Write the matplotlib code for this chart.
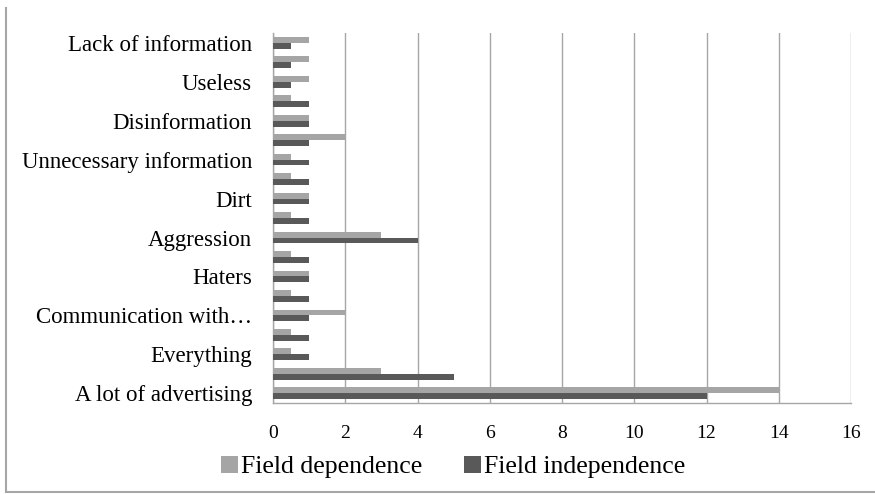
import matplotlib.pyplot as plt
from matplotlib.lines import Line2D
import numpy as np

# categories from bottom to top; every second label is skipped on the axis
categories = ["A lot of advertising", "", "Everything", "", "Communication with…", "",
              "Haters", "", "Aggression", "", "Dirt", "", "Unnecessary information", "",
              "Disinformation", "", "Useless", "", "Lack of information"]
field_dependence = [14, 3, 0.5, 0.5, 2, 0.5, 1, 0.5, 3, 0.5, 1, 0.5, 0.5, 2, 1, 0.5, 1, 1, 1]
field_independence = [12, 5, 1, 1, 1, 1, 1, 1, 4, 1, 1, 1, 1, 1, 1, 1, 0.5, 0.5, 0.5]
xticks = [0, 2, 4, 6, 8, 10, 12, 14, 16]

plt.rcParams['font.family'] = ['Liberation Serif', 'DejaVu Serif']

fig = plt.figure(figsize=(8.75, 4.94), dpi=100)
ax = fig.add_axes([0.312, 0.1842, 0.9726 - 0.312, 0.933 - 0.1842])

y = np.arange(len(categories))
h = 0.3
ax.barh(y + h / 2, field_dependence, height=h, color='#A5A5A5', label='Field dependence', zorder=3)
ax.barh(y - h / 2, field_independence, height=h, color='#595959', label='Field independence', zorder=3)

ax.set_xlim(0, 16)
ax.set_ylim(-0.5, len(categories) - 0.5)
ax.set_xticks(xticks)
ax.set_yticks(y)
ax.set_yticklabels(categories)
ax.tick_params(axis='y', length=0, pad=15, labelsize=16.5)
ax.tick_params(axis='x', length=0, pad=16, labelsize=14)

ax.grid(axis='x', color='#A6A6A6', linewidth=1, zorder=0)
for side in ['top', 'right']:
    ax.spines[side].set_visible(False)
for side in ['left', 'bottom']:
    ax.spines[side].set_color('#A6A6A6')
    ax.spines[side].set_linewidth(1)

fig.legend(loc='center', bbox_to_anchor=(0.518, 0.055), ncol=2, frameon=False,
           fontsize=18.5, handlelength=0.65, handleheight=0.65, handletextpad=0.15,
           columnspacing=1.6)

# chart frame
fig.add_artist(Line2D([0.0065, 0.0065], [0.004, 0.984], color='#A6A6A6', linewidth=1.5))
fig.add_artist(Line2D([0.0065, 1.0], [0.004, 0.004], color='#A6A6A6', linewidth=1.5))

fig.savefig('out.png', dpi=100)
